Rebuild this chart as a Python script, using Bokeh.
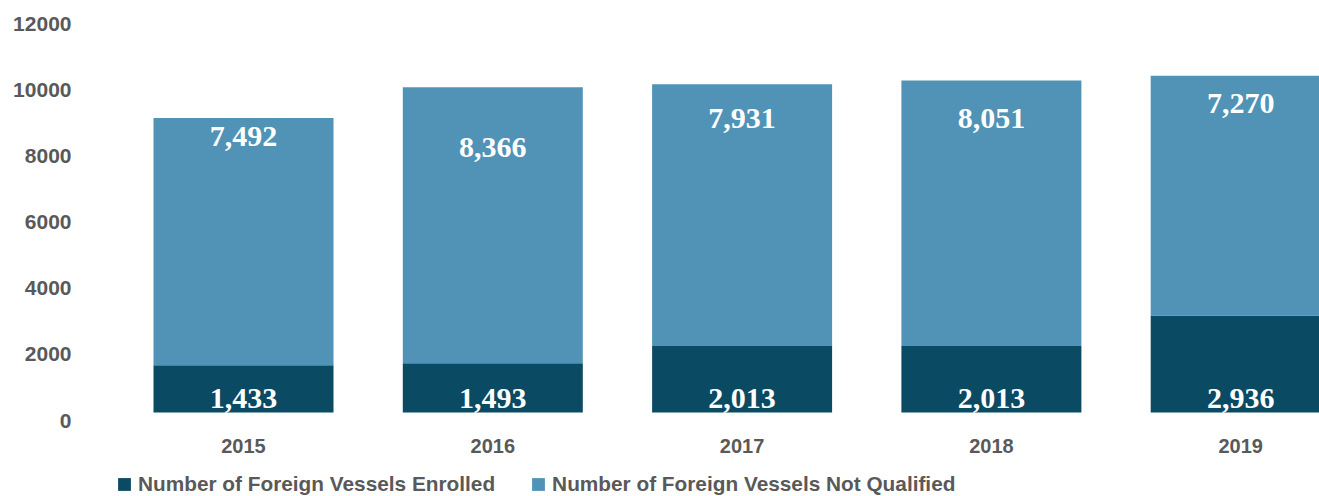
from bokeh.plotting import figure
from bokeh.layouts import column
from bokeh.models import (ColumnDataSource, Range1d, LinearAxis, FixedTicker,
                          Legend, LegendItem, BasicTickFormatter)
from bokeh.core.properties import value
from bokeh.embed import file_html
from bokeh.resources import INLINE

# ---- data ----
years = [2015, 2016, 2017, 2018, 2019]
enrolled = [1433, 1493, 2013, 2013, 2936]
not_qualified = [7492, 8366, 7931, 8051, 7270]
y_ticks = [0, 2000, 4000, 6000, 8000, 10000, 12000]
series_names = ["Number of Foreign Vessels Enrolled",
                "Number of Foreign Vessels Not Qualified"]

# ---- style ----
DARK = "#0B4A63"
LIGHT = "#5093B6"
GREY = "#595959"
top_label_offsets = [19, 60, 34, 38, 28]   # px below each bar top (layout)

totals = [a + b for a, b in zip(enrolled, not_qualified)]
src = ColumnDataSource(dict(
    year=years,
    enrolled=enrolled,
    nq=not_qualified,
    total=totals,
    zero=[0] * len(years),
    enrolled_txt=[f"{v:,}" for v in enrolled],
    nq_txt=[f"{v:,}" for v in not_qualified],
    top_off=top_label_offsets,
))

FRAME_LEFT = 118
px_per_year = 249.3
start = years[0] - (243 - FRAME_LEFT) / px_per_year
end = start + (1319 - FRAME_LEFT) / px_per_year
shift = 242  # data units equal to ~8px

p = figure(width=1319, height=462, output_backend="svg", toolbar_location=None,
           x_range=Range1d(start, end), y_range=Range1d(-shift, 12000),
           min_border_left=FRAME_LEFT, min_border_right=0, min_border_top=16,
           min_border_bottom=42)
p.outline_line_color = None
p.grid.visible = False
p.yaxis.visible = False

p.extra_y_ranges = {"lab": Range1d(0, 12000 + shift)}
yax = LinearAxis(y_range_name="lab", ticker=FixedTicker(ticks=y_ticks),
                 formatter=BasicTickFormatter(use_scientific=False))
yax.axis_line_color = None
yax.major_tick_line_color = None
yax.minor_tick_line_color = None
yax.major_tick_out = 0
yax.major_label_standoff = FRAME_LEFT - 71
yax.major_label_text_font = "Liberation Sans"
yax.major_label_text_font_style = "bold"
yax.major_label_text_font_size = "21px"
yax.major_label_text_color = GREY
p.add_layout(yax, "left")

xax = p.xaxis[0]
xax.ticker = FixedTicker(ticks=years)
xax.formatter = BasicTickFormatter(use_scientific=False)
xax.axis_line_color = None
xax.major_tick_line_color = None
xax.minor_tick_line_color = None
xax.major_tick_out = 0
xax.major_label_standoff = 18
xax.major_label_text_font = "Liberation Sans"
xax.major_label_text_font_style = "bold"
xax.major_label_text_font_size = "20px"
xax.major_label_text_color = GREY

bw = 180 / px_per_year
p.vbar(x="year", bottom="zero", top="enrolled", width=bw, source=src,
       fill_color=DARK, line_color=None)
p.vbar(x="year", bottom="enrolled", top="total", width=bw, source=src,
       fill_color=LIGHT, line_color=None)

p.text(x="year", y="zero", text="enrolled_txt", source=src, y_offset=-14,
       text_align="center", text_baseline="alphabetic",
       text_font=value("Liberation Serif"), text_font_style="bold",
       text_font_size="30px", text_color="white")
p.text(x="year", y="total", text="nq_txt", source=src, y_offset="top_off",
       text_align="center", text_baseline="alphabetic",
       text_font=value("Liberation Serif"), text_font_style="bold",
       text_font_size="30px", text_color="white")

# ---- legend strip (same series, drawn out of its view; only the key shows) ----
lg = figure(width=1319, height=34, output_backend="svg", toolbar_location=None,
            x_range=Range1d(0, 1), y_range=Range1d(0, 1),
            min_border_left=0, min_border_right=0, min_border_top=0,
            min_border_bottom=0)
lg.outline_line_color = None
lg.axis.visible = False
lg.grid.visible = False
k1 = lg.vbar(x="year", bottom="zero", top="enrolled", width=bw, source=src,
             fill_color=DARK, line_color=None)
k2 = lg.vbar(x="year", bottom="enrolled", top="total", width=bw, source=src,
             fill_color=LIGHT, line_color=None)
legend = Legend(items=[LegendItem(label=series_names[0], renderers=[k1]),
                       LegendItem(label=series_names[1], renderers=[k2])],
                location=(-2, 0), orientation="horizontal",
                glyph_width=16, glyph_height=16, label_standoff=6,
                spacing=35, padding=0, margin=0,
                border_line_color=None, background_fill_alpha=0,
                label_text_font="Liberation Sans", label_text_font_style="bold",
                label_text_font_size="20.8px", label_text_color=GREY)
lg.add_layout(legend, "center")

layout = column(p, lg, spacing=0)
open("out.html", "w").write(file_html(layout, INLINE))
